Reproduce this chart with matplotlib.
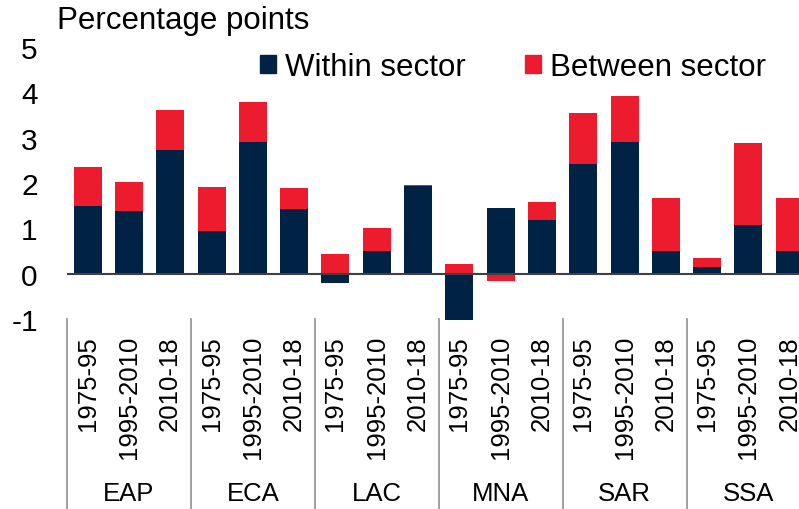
"""
Within vs between sector contributions by region and period.
"""

import numpy as np
import matplotlib.pyplot as plt
from matplotlib.lines import Line2D
from matplotlib.patches import Patch
from matplotlib.transforms import blended_transform_factory

regions = ["EAP", "ECA", "LAC", "MNA", "SAR", "SSA"]
periods = ["1975-95", "1995-2010", "2010-18"]

within = [1.50, 1.39, 2.73,
          0.94, 2.91, 1.43,
          -0.20, 0.50, 1.94,
          -1.02, 1.44, 1.18,
          2.42, 2.91, 0.50,
          0.15, 1.08, 0.50]
between = [0.86, 0.63, 0.87,
           0.97, 0.87, 0.45,
           0.44, 0.51, 0.02,
           0.22, -0.17, 0.41,
           1.13, 1.00, 1.17,
           0.20, 1.81, 1.17]

y_ticks = [-1, 0, 1, 2, 3, 4, 5]

NAVY = "#002245"
RED = "#EC1C2E"


def main():
    plt.rcParams['font.family'] = ['Liberation Sans', 'DejaVu Sans']

    fig = plt.figure(figsize=(7.99, 5.10), dpi=100)
    W, H = 799, 510
    # axes placed in pixels: left edge 67, zero line ~275, -1 at 320
    ax = fig.add_axes([67 / W, (H - 320) / H, 18 * 41.3 / W, (320 - 48) / H])

    w = np.array(within)
    b = np.array(between)
    x = np.arange(len(w))
    # excel-like stacking: positives on positives, negatives on negatives
    b_bottom = np.where(b >= 0, np.maximum(w, 0), np.minimum(w, 0))

    ax.bar(x, w, width=0.68, color=NAVY, clip_on=False)
    ax.bar(x, b, width=0.68, bottom=b_bottom, color=RED, clip_on=False)
    ax.axhline(0, color="#404040", lw=1.5)

    ax.set_xlim(-0.5, len(w) - 0.5)
    ax.set_ylim(-1, 5)
    ax.set_yticks(y_ticks)
    ax.set_yticklabels([str(t) for t in y_ticks])
    ax.tick_params(axis='y', length=0, pad=21, labelsize=21.5)
    ax.set_xticks([])
    for s in ax.spines.values():
        s.set_visible(False)

    # category axis below the plot
    tr = blended_transform_factory(ax.transData, fig.transFigure)
    for i in range(len(w)):
        ax.text(i, (H - 336) / H, periods[i % 3], transform=tr, rotation=90,
                ha="center", va="top", fontsize=18.5)
    for g, name in enumerate(regions):
        ax.text(g * 3 + 1, (H - 494) / H, name, transform=tr,
                ha="center", va="center", fontsize=18.5)
    for g in range(len(regions) + 1):
        fig.add_artist(Line2D([g * 3 - 0.5, g * 3 - 0.5], [(H - 320) / H, 0],
                              transform=tr, color="#909090", lw=1.2))

    fig.text(57 / W, 1 - 21 / H, "Percentage points", ha="left", va="center",
             fontsize=22.5)

    handles = [Patch(color=NAVY, label="Within sector"),
               Patch(color=RED, label="Between sector")]
    fig.legend(handles=handles, loc="center", ncol=2, frameon=False,
               bbox_to_anchor=(513 / W, 1 - 68 / H), fontsize=22.5,
               handlelength=0.5, handleheight=0.5, handletextpad=0.3,
               columnspacing=1.9, borderpad=0, borderaxespad=0)

    fig.savefig("out.png", dpi=100)


if __name__ == "__main__":
    main()
